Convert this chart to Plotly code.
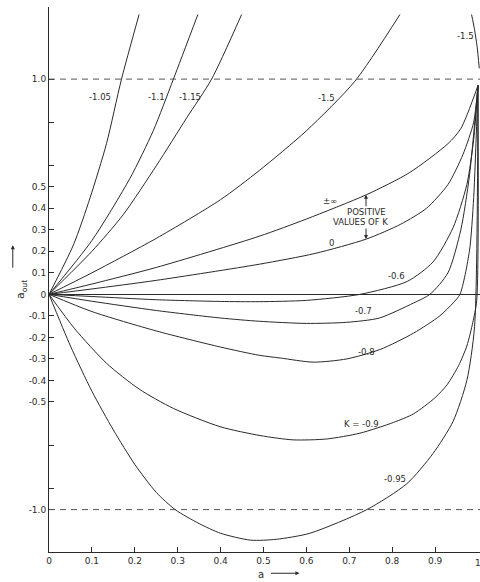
import plotly.graph_objects as go

# ---- curve data: a (input) vs a_out for each value of K ----
a_inf = [0, 0.1, 0.25, 0.49, 0.6, 0.74, 0.84, 0.93, 0.96, 1.0]
y_inf = [0, 0.048, 0.125, 0.27, 0.35, 0.463, 0.565, 0.70, 0.77, 0.97]

a_k0 = [0, 0.1, 0.25, 0.49, 0.62, 0.74, 0.82, 0.88, 0.93, 0.965, 0.99, 1.0]
y_k0 = [0, 0.025, 0.065, 0.14, 0.19, 0.257, 0.326, 0.40, 0.51, 0.65, 0.80, 0.97]

a_k06 = [0, 0.1, 0.25, 0.4, 0.49, 0.6, 0.725, 0.835, 0.895, 0.942, 0.974, 0.99, 1.0]
y_k06 = [0, -0.01, -0.025, -0.033, -0.034, -0.028, 0, 0.06, 0.15, 0.31, 0.51, 0.72, 0.97]

a_k07 = [0, 0.1, 0.25, 0.4, 0.49, 0.6, 0.694, 0.77, 0.85, 0.888, 0.93, 0.96, 0.98, 1.0]
y_k07 = [0, -0.032, -0.075, -0.11, -0.125, -0.135, -0.13, -0.11, -0.04, 0, 0.1, 0.3, 0.55, 0.97]

a_k08 = [0, 0.1, 0.25, 0.4, 0.49, 0.54, 0.616, 0.694, 0.772, 0.85, 0.911, 0.942, 0.958, 0.98, 0.99, 1.0]
y_k08 = [0, -0.08, -0.17, -0.245, -0.283, -0.296, -0.315, -0.30, -0.256, -0.18, -0.10, -0.04, 0, 0.2, 0.45, 0.97]

a_k09 = [0, 0.06, 0.134, 0.21, 0.29, 0.399, 0.492, 0.569, 0.647, 0.725, 0.803, 0.85, 0.9, 0.928, 0.955, 0.974, 0.988, 0.997, 1.0]
y_k09 = [0, -0.16, -0.32, -0.44, -0.53, -0.615, -0.656, -0.676, -0.672, -0.645, -0.595, -0.555, -0.48, -0.42, -0.33, -0.24, -0.13, -0.03, 0.97]

a_k095 = [0, 0.05, 0.1, 0.15, 0.2, 0.25, 0.294, 0.35, 0.4, 0.47, 0.53, 0.608, 0.741, 0.834, 0.895, 0.942, 0.974, 0.992, 1.0]
y_k095 = [0, -0.24, -0.45, -0.63, -0.79, -0.92, -1.0, -1.065, -1.11, -1.142, -1.138, -1.11, -1.0, -0.88, -0.74, -0.59, -0.40, -0.15, 0.97]

a_k105 = [0, 0.057, 0.096, 0.134, 0.169, 0.21]
y_k105 = [0, 0.23, 0.45, 0.70, 1.0, 1.30]

a_k11 = [0, 0.1, 0.189, 0.243, 0.29, 0.347]
y_k11 = [0, 0.25, 0.54, 0.76, 1.0, 1.30]

a_k115 = [0, 0.1, 0.173, 0.251, 0.321, 0.379, 0.449]
y_k115 = [0, 0.2, 0.37, 0.6, 0.82, 1.0, 1.30]

a_k15 = [0, 0.1, 0.25, 0.4, 0.49, 0.6, 0.713, 0.818]
y_k15 = [0, 0.1, 0.26, 0.44, 0.575, 0.76, 0.99, 1.30]

a_k15r = [0.985, 0.992, 0.998, 1.003]
y_k15r = [1.30, 1.23, 1.15, 1.05]

curves = [
    (a_inf, y_inf), (a_k0, y_k0), (a_k06, y_k06), (a_k07, y_k07),
    (a_k08, y_k08), (a_k09, y_k09), (a_k095, y_k095), (a_k105, y_k105),
    (a_k11, y_k11), (a_k115, y_k115), (a_k15, y_k15), (a_k15r, y_k15r),
]

# ---- curve labels (text, a, a_out) ----
label_text = ["-1.05", "-1.1", "-1.15", "-1.5", "-1.5", "±∞", "POSITIVE", "VALUES OF K",
              "0", "-0.6", "-0.7", "-0.8", "K = -0.9", "-0.95"]
label_a = [0.119, 0.251, 0.329, 0.647, 0.970, 0.655, 0.741, 0.725,
           0.659, 0.810, 0.732, 0.739, 0.729, 0.807]
label_y = [0.917, 0.917, 0.917, 0.914, 1.20, 0.433, 0.381, 0.335,
           0.239, 0.083, -0.078, -0.266, -0.604, -0.856]

# ---- axis ticks ----
x_ticks = [0, 0.1, 0.2, 0.3, 0.4, 0.5, 0.6, 0.7, 0.8, 0.9]
x_tick_text = ["0", "0.1", "0.2", "0.3", "0.4", "0.5", "0.6", "0.7", "0.8", "0.9"]
y_ticks = [1.0, 0.8, 0.6, 0.5, 0.4, 0.3, 0.2, 0.1, 0, -0.1, -0.2, -0.3, -0.4, -0.5, -0.7, -0.9, -1.0]
y_tick_text = ["1.0", "", "", "0.5", "0.4", "0.3", "0.2", "0.1", "0", "-0.1", "-0.2", "-0.3",
               "-0.4", "-0.5", "", "", "-1.0"]

INK = "#2a2a2a"
FONT = "DejaVu Sans"

fig = go.Figure()
for xs, ys in curves:
    fig.add_trace(go.Scatter(x=xs, y=ys, mode="lines",
                             line=dict(color=INK, width=1, shape="spline", smoothing=0.7),
                             hoverinfo="skip", showlegend=False, cliponaxis=True))

# dashed reference levels at +1 and -1
for lvl in (1.0, -1.0):
    fig.add_shape(type="line", xref="x", yref="y", x0=0, x1=1.005, y0=lvl, y1=lvl,
                  line=dict(color="#555", width=1, dash="6px,5px"))

for t, xa, ya in zip(label_text, label_a, label_y):
    fig.add_annotation(x=xa, y=ya, xref="x", yref="y", text=t, showarrow=False,
                       font=dict(family=FONT, size=8.5, color=INK))

# double arrow bracketing the positive-K region
fig.add_annotation(x=0.739, y=0.463, xref="x", yref="y", text="", showarrow=True,
                   ax=0, ay=13, arrowhead=2, arrowsize=0.8, arrowwidth=1, arrowcolor=INK)
fig.add_annotation(x=0.739, y=0.257, xref="x", yref="y", text="", showarrow=True,
                   ax=0, ay=-12, arrowhead=2, arrowsize=0.8, arrowwidth=1, arrowcolor=INK)

# last x tick label sits on the right edge of the page
fig.add_annotation(x=1.0, y=0, xref="x", yref="paper", yanchor="top", yshift=-4, text="1",
                   showarrow=False, font=dict(family=FONT, size=9, color=INK))

# axis titles with arrows
fig.add_annotation(x=-0.084, y=0.482, xref="paper", yref="paper", text="a<sub>out</sub>",
                   textangle=-90, showarrow=False, font=dict(family=FONT, size=11, color=INK))
fig.add_annotation(x=-0.084, y=0.563, xref="paper", yref="paper", text="", showarrow=True,
                   ax=0, ay=24, arrowhead=2, arrowsize=0.8, arrowwidth=1, arrowcolor=INK)
fig.add_annotation(x=0.492, y=-0.041, xref="paper", yref="paper", text="a", showarrow=False,
                   yanchor="middle", font=dict(family=FONT, size=10, color=INK))
fig.add_annotation(x=0.581, y=-0.039, xref="paper", yref="paper", text="", showarrow=True,
                   ax=-30, ay=0, arrowhead=2, arrowsize=0.8, arrowwidth=1, arrowcolor=INK)

fig.update_layout(
    width=480, height=582,
    margin=dict(l=49, r=0, t=7, b=30),
    paper_bgcolor="white", plot_bgcolor="white",
    xaxis=dict(range=[0, 1.0047], tickvals=x_ticks, ticktext=x_tick_text, ticks="inside",
               ticklen=5, tickcolor=INK, showgrid=False, zeroline=False, showline=True,
               linecolor=INK, linewidth=1, tickfont=dict(family=FONT, size=9, color=INK)),
    yaxis=dict(range=[-1.197, 1.335], tickvals=y_ticks, ticktext=y_tick_text, ticks="inside",
               ticklen=5, tickcolor=INK, showgrid=False, zeroline=True, zerolinecolor=INK,
               zerolinewidth=1, showline=True, linecolor=INK, linewidth=1,
               tickfont=dict(family=FONT, size=9, color=INK)),
)

fig.write_html("out.html")
